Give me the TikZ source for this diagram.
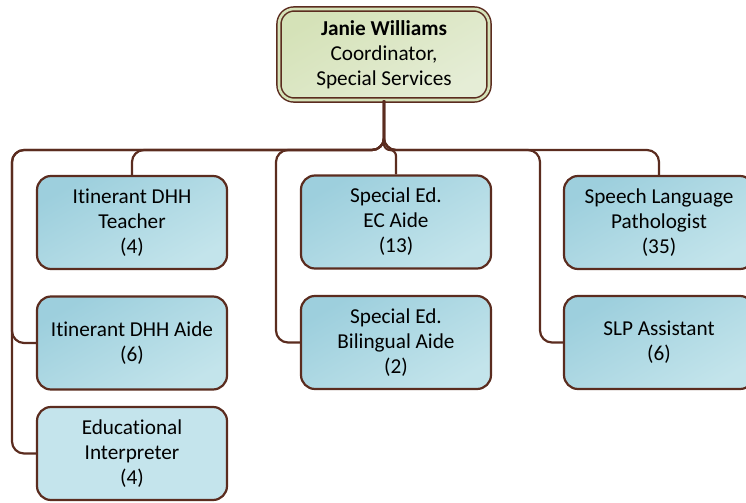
\documentclass[tikz,border=0pt]{standalone}
\usepackage{fontspec}
\setmainfont{Carlito}[Ligatures=NoCommon]
\usepackage{tikz}
\definecolor{LINEBROWN}{HTML}{5B2C1F}
\definecolor{BLUETOP}{HTML}{9DCFDD}
\definecolor{BLUEBOT}{HTML}{C3E4EB}
\definecolor{BLUEPALE}{HTML}{C4E4EC}
\definecolor{GREENTOP}{HTML}{D5E2B8}
\definecolor{GREENBOT}{HTML}{E5EDD6}
\tikzset{
LINK/.style ={draw=LINEBROWN,line join=round,line width=2.2bp,rounded corners=12bp},
BOX/.style ={draw=LINEBROWN,line width=2.2bp,rounded corners=14bp,minimum width=190bp,minimum height=93bp,
  align=center,inner sep=0pt,text=black,font=\fontsize{21.3}{25}\selectfont},
CHILD/.style ={BOX,top color=BLUETOP,bottom color=BLUEBOT,shading angle=30},
PALE/.style ={BOX,fill=BLUEPALE},
HEAD/.style ={BOX,line width=1.5bp,double=GREENTOP,double distance=2.6bp,rounded corners=15bp,
  top color=GREENTOP,bottom color=GREENBOT,shading angle=30,minimum width=210bp,minimum height=91bp},
}
\begin{document}
\begin{tikzpicture}
[x=1bp, y=-1bp]
	\useasboundingbox (0,0) rectangle (746,503);
	\clip (0,0) rectangle (746,503);
	\node[HEAD] (root) at (384,54.5) {\textbf{Janie Williams}\\Coordinator,\\Special Services};
	\node[CHILD] (dhhteacher) at (132,222.5) {Itinerant DHH\\Teacher\\(4)};
	\node[CHILD] (dhhaide) at (132,343) {Itinerant DHH Aide\\(6)};
	\node[PALE] (interp) at (132,453.5) {Educational\\Interpreter\\(4)};
	\node[CHILD] (ecaide) at (396,222) {Special Ed.\\EC Aide\\(13)};
	\node[CHILD] (biaide) at (396,342.5) {Special Ed.\\Bilingual Aide\\(2)};
	\node[CHILD] (slp) at (659,222.5) {Speech Language\\Pathologist\\(35)};
	\node[CHILD] (slpasst) at (659,342.5) {SLP Assistant\\(6)};
	\coordinate (fork) at (384,150);
	\coordinate (busA) at (12,150);
	\coordinate (busB) at (276,150);
	\coordinate (busC) at (540,150);
	% left column
	\draw[LINK] (root.south) -- (fork) -| (dhhteacher.north);
	\draw[LINK] (root.south) -- (fork) -- (busA) |- (dhhaide.west);
	\draw[LINK] (root.south) -- (fork) -- (busA) |- (interp.west);
	% middle column
	\draw[LINK,rounded corners=6bp] (root.south) -- (fork) -| (ecaide.north);
	\draw[LINK] (root.south) -- (fork) -- (busB) |- (biaide.west);
	% right column
	\draw[LINK] (root.south) -- (fork) -| (slp.north);
	\draw[LINK] (root.south) -- (fork) -- (busC) |- (slpasst.west);
\end{tikzpicture}
\end{document}
